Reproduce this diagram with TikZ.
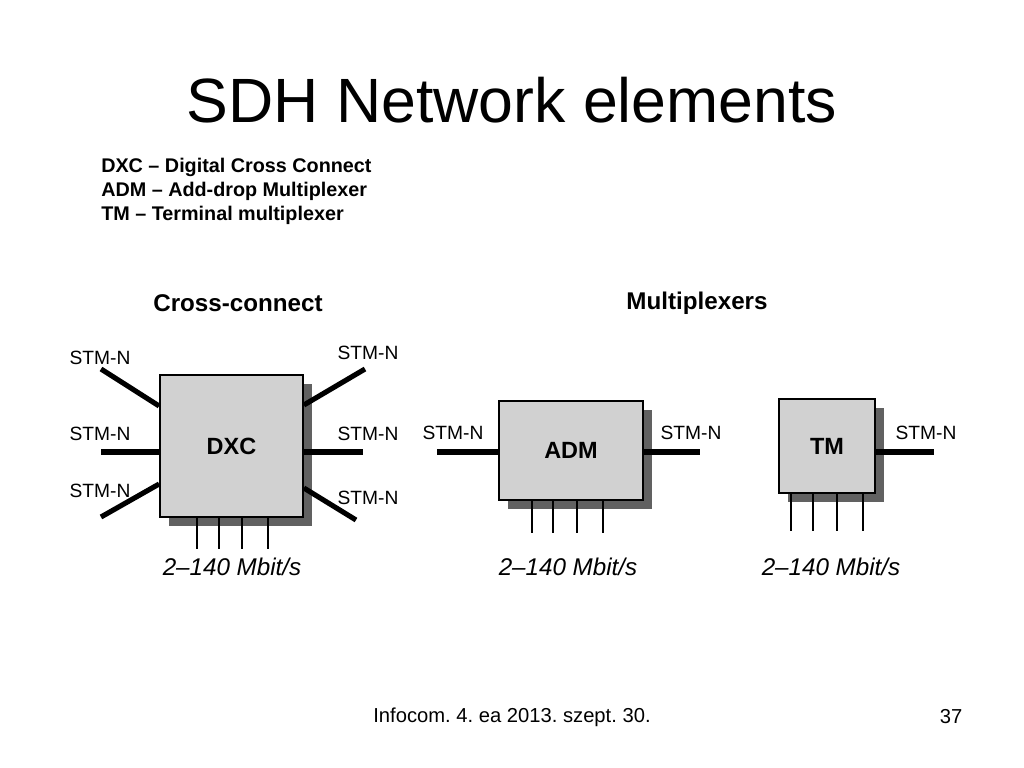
\documentclass[tikz,border=0pt]{standalone}
\usepackage{fontspec}
\setmainfont{Liberation Sans}
\usetikzlibrary{positioning,shadows,calc}
\frenchspacing
\newcommand{\pxu}{0.703125pt}
\tikzset{
    element/.style={draw=black, line width=1.3pt, fill=black!18, inner sep=0pt,
        font=\fontsize{16.5}{20}\selectfont\bfseries,
        drop shadow={shadow xshift=6.3pt, shadow yshift=-6.3pt, fill=black!62, opacity=1}},
    trunk/.style={line width=3.6pt},
    tributary/.style={line width=0.9pt},
    port/.style={font=\fontsize{13.5}{16}\selectfont},
    rate/.style={font=\fontsize{17}{20}\selectfont\itshape},
    group/.style={font=\fontsize{17}{20}\selectfont\bfseries},
}
\begin{document}
\begin{tikzpicture}[x=\pxu, y=-\pxu, font=\fontsize{14.2}{16}\selectfont]
    \useasboundingbox (0,0) rectangle (1024,768);
    \node (title) at (512,100) {\fontsize{44}{50}\selectfont SDH Network elements};
    \node[anchor=west, align=left, inner sep=0pt, font=\fontsize{13.9}{16.9}\selectfont\bfseries] (legend) at (101,191)
        {DXC – Digital Cross Connect\\ADM – Add-drop Multiplexer\\TM – Terminal multiplexer};
    % cross-connect
    \node[group] (cchead) at (238,303) {Cross-connect};
    \node[element, minimum width=100.5pt, minimum height=99.8pt] (dxc) at (231.5,446) {DXC};
    \coordinate (dxcl1) at (101,369);
    \coordinate (dxcl2) at (101,452);
    \coordinate (dxcl3) at (101,517);
    \coordinate (dxcr1) at (365,369);
    \coordinate (dxcr2) at (363,452);
    \coordinate (dxcr3) at (356,520);
    \draw[trunk] ($(dxc.west)+(0,-40)$) -- (dxcl1);
    \draw[trunk] ($(dxc.west)+(0,6)$) -- (dxcl2);
    \draw[trunk] ($(dxc.west)+(0,38)$) -- (dxcl3);
    \draw[trunk] ($(dxc.east)+(0,-41)$) -- (dxcr1);
    \draw[trunk] ($(dxc.east)+(0,6)$) -- (dxcr2);
    \draw[trunk] ($(dxc.east)+(0,42)$) -- (dxcr3);
    \node[port] (dxcp1) at (100,358) {STM-N};
    \node[port] (dxcp2) at (100,434) {STM-N};
    \node[port] (dxcp3) at (100,491) {STM-N};
    \node[port] (dxcp4) at (368,353) {STM-N};
    \node[port] (dxcp5) at (368,434) {STM-N};
    \node[port] (dxcp6) at (368,498) {STM-N};
    \foreach \dx in {-34.5,-12.5,10.5,36.5}
        \draw[tributary] ($(dxc.south)+(\dx,0)$) -- ++(0,31);
    \node[rate] (dxcrate) at (232,567) {2–140 Mbit/s};
    % multiplexers
    \node[group] (muxhead) at (697,303) {Multiplexers};
    \node[element, minimum width=101.2pt, minimum height=69.6pt] (adm) at (571,450.5) {ADM};
    \coordinate (adml) at (437,452);
    \coordinate (admr) at (700,452);
    \draw[trunk] ($(adm.west)+(0,1.5)$) -- (adml);
    \draw[trunk] ($(adm.east)+(0,1.5)$) -- (admr);
    \node[port] (admp1) at (453,433) {STM-N};
    \node[port] (admp2) at (691,433) {STM-N};
    \foreach \dx in {-39,-18,6,32}
        \draw[tributary] ($(adm.south)+(\dx,0)$) -- ++(0,32);
    \node[rate] (admrate) at (568,567) {2–140 Mbit/s};
    \node[element, minimum width=67.5pt, minimum height=66.1pt] (tm) at (827,446) {TM};
    \coordinate (tmr) at (934,452);
    \draw[trunk] ($(tm.east)+(0,6)$) -- (tmr);
    \node[port] (tmp1) at (926,433) {STM-N};
    \foreach \dx in {-36,-14,10,36}
        \draw[tributary] ($(tm.south)+(\dx,0)$) -- ++(0,37);
    \node[rate] (tmrate) at (831,567) {2–140 Mbit/s};
    % footer
    \node (footer) at (512,717) {Infocom. 4. ea 2013. szept. 30.};
    \node (pagenum) at (951,717) {37};
\end{tikzpicture}
\end{document}
